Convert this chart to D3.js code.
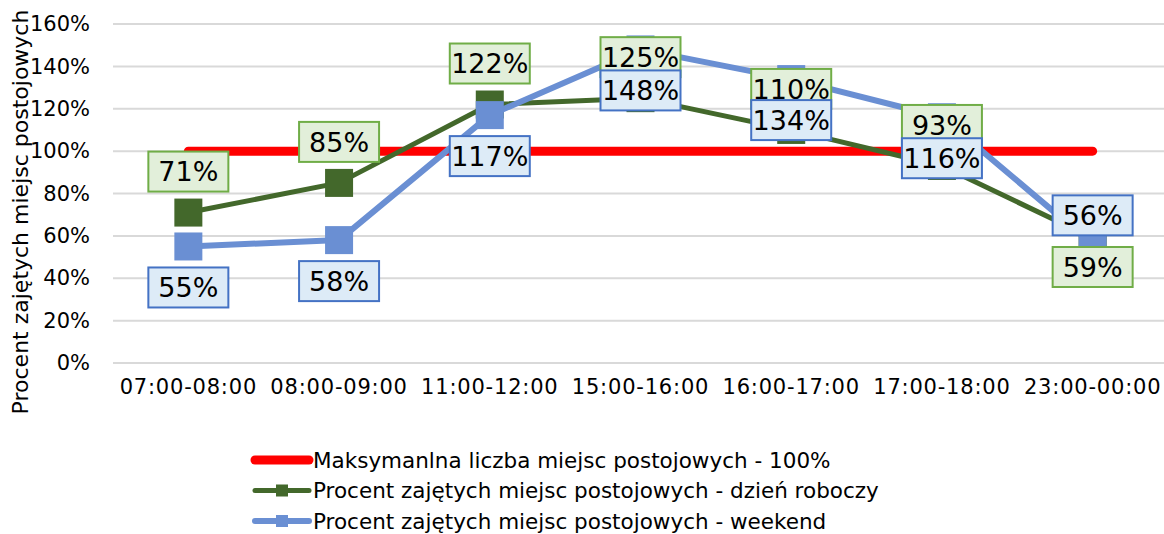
<!DOCTYPE html>
<html lang="pl">
<head>
<meta charset="utf-8">
<script src="https://cdn.jsdelivr.net/npm/d3@7"></script>
<style>
  body { margin: 0; background: #fff; }
  svg text { font-family: "DejaVu Sans", Verdana, sans-serif; fill: #000; }
</style>
</head>
<body>
<script>
  // chart values
  var categories = ["07:00-08:00", "08:00-09:00", "11:00-12:00", "15:00-16:00", "16:00-17:00", "17:00-18:00", "23:00-00:00"];
  var maxSpaces = [100, 100, 100, 100, 100, 100, 100];
  var weekday = [71, 85, 122, 125, 110, 93, 59];
  var weekend = [55, 58, 117, 148, 134, 116, 56];
  var yTicks = [0, 20, 40, 60, 80, 100, 120, 140, 160];

  var seriesNames = [
    "Maksymanlna liczba miejsc postojowych - 100%",
    "Procent zajętych miejsc postojowych - dzień roboczy",
    "Procent zajętych miejsc postojowych - weekend"
  ];

  var width = 1164, height = 534;
  var plot = {left: 113, right: 1168, top: 24, bottom: 363};

  var svg = d3.select("body").append("svg")
      .attr("width", width)
      .attr("height", height);

  var x = d3.scaleBand()
      .domain(categories)
      .range([plot.left, plot.right]);

  var y = d3.scaleLinear()
      .domain([0, 160])
      .range([plot.bottom, plot.top]);

  var cx = function(d, i) { return x(categories[i]) + x.bandwidth() / 2; };

  // grid
  svg.append("g")
    .selectAll("line")
    .data(yTicks)
    .enter().append("line")
      .attr("x1", plot.left)
      .attr("x2", plot.right)
      .attr("y1", d => y(d))
      .attr("y2", d => y(d))
      .attr("stroke", "#d9d9d9")
      .attr("stroke-width", 2);

  // y axis
  var yAxis = d3.axisLeft(y)
      .tickValues(yTicks)
      .tickSize(0)
      .tickPadding(0)
      .tickFormat(d => d + "%");

  var yAxisG = svg.append("g")
      .attr("transform", "translate(90,0)")
      .call(yAxis);
  yAxisG.select(".domain").remove();
  yAxisG.selectAll("text")
      .attr("font-size", 21)
      .attr("font-family", "DejaVu Sans")
      .attr("fill", "#000");

  // x axis
  var xAxis = d3.axisBottom(x)
      .tickSize(0)
      .tickPadding(0);

  var xAxisG = svg.append("g")
      .attr("transform", "translate(0,379)")
      .call(xAxis);
  xAxisG.select(".domain").remove();
  xAxisG.selectAll("text")
      .attr("font-size", 21)
      .attr("letter-spacing", 0.8)
      .attr("font-family", "DejaVu Sans")
      .attr("fill", "#000");

  // y axis title
  svg.append("text")
      .attr("transform", "translate(28,212) rotate(-90)")
      .attr("text-anchor", "middle")
      .attr("font-size", 22)
      .text("Procent zajętych miejsc postojowych");

  var line = d3.line()
      .x(cx)
      .y(d => y(d));

  // 100% line
  svg.append("path")
      .datum(maxSpaces)
      .attr("d", line)
      .attr("fill", "none")
      .attr("stroke", "#ff0000")
      .attr("stroke-width", 9)
      .attr("stroke-linecap", "round");

  var series = [
    {values: weekday, color: "#43682b", width: 5, labelFill: "#e2efda", labelStroke: "#70ad47", above: true},
    {values: weekend, color: "#6a8fd3", width: 6, labelFill: "#ddebf7", labelStroke: "#4472c4", above: false}
  ];

  var markerSize = 28;

  series.forEach(function(s) {
    svg.append("path")
        .datum(s.values)
        .attr("d", line)
        .attr("fill", "none")
        .attr("stroke", s.color)
        .attr("stroke-width", s.width)
        .attr("stroke-linejoin", "round");

    svg.append("g")
      .selectAll("rect")
      .data(s.values)
      .enter().append("rect")
        .attr("x", (d, i) => cx(d, i) - markerSize / 2)
        .attr("y", d => y(d) - markerSize / 2)
        .attr("width", markerSize)
        .attr("height", markerSize)
        .attr("fill", s.color);
  });

  // data labels
  series.forEach(function(s) {
    var n = s.values.length;
    var labels = svg.append("g")
      .selectAll("g")
      .data(s.values)
      .enter().append("g")
        .attr("transform", function(d, i) {
          var up = s.above;
          var off = 41;
          if (i === n - 1) { up = !up; off = 29; }
          return "translate(" + [cx(d, i), y(d) + (up ? -off : off)] + ")";
        });

    labels.append("rect")
        .attr("x", -40)
        .attr("y", -20)
        .attr("width", 80)
        .attr("height", 40)
        .attr("fill", s.labelFill)
        .attr("stroke", s.labelStroke)
        .attr("stroke-width", 2);

    labels.append("text")
        .attr("text-anchor", "middle")
        .attr("dy", "0.36em")
        .attr("font-size", 27)
        .text(d => d + "%");
  });

  // legend
  var legendItems = [
    {name: seriesNames[0], color: "#ff0000", width: 9, marker: false},
    {name: seriesNames[1], color: "#43682b", width: 5, marker: true},
    {name: seriesNames[2], color: "#6a8fd3", width: 6, marker: true}
  ];

  var legend = svg.append("g")
    .selectAll("g")
    .data(legendItems)
    .enter().append("g")
      .attr("transform", (d, i) => "translate(" + [253, 460 + i * 30.5] + ")");

  legend.append("line")
      .attr("x1", 2)
      .attr("x2", 56)
      .attr("stroke", d => d.color)
      .attr("stroke-width", d => d.width)
      .attr("stroke-linecap", "round");

  legend.filter(d => d.marker).append("rect")
      .attr("x", 23)
      .attr("y", -6)
      .attr("width", 12)
      .attr("height", 12)
      .attr("fill", d => d.color);

  legend.append("text")
      .attr("x", 60)
      .attr("dy", "0.35em")
      .attr("font-size", 21.5)
      .text(d => d.name);
</script>
</body>
</html>
